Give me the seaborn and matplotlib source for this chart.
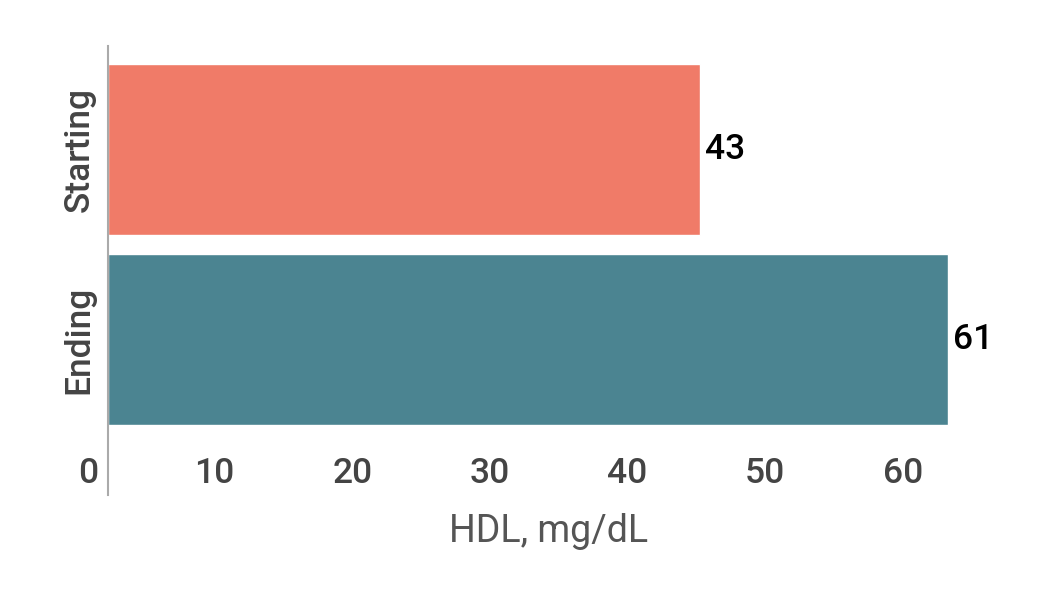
import matplotlib
matplotlib.use("Agg")
import matplotlib.pyplot as plt
import matplotlib.transforms as mtransforms
import seaborn as sns
import pandas as pd

categories = ["Starting", "Ending"]
values = [43, 61]
colors = ["#F07B68", "#4B8491"]
x_ticks = [0, 10, 20, 30, 40, 50, 60]
x_label = "HDL, mg/dL"

sns.set_theme(style="white")
plt.rcParams["font.family"] = ["Roboto", "DejaVu Sans"]

df = pd.DataFrame({"cat": categories, "val": values})

fig = plt.figure(figsize=(10.46, 6.02), dpi=100)
W, H = 1046, 602
ax = fig.add_axes([108 / W, 1 - 495 / H, (989 - 108) / W, (495 - 46) / H])

sns.barplot(data=df, y="cat", x="val", hue="cat", palette=colors,
            width=0.9, saturation=1, legend=False, ax=ax)

ax.set_xlim(0, 64)
ax.set_ylim(1.816, -0.547)

for s in ["top", "right", "bottom"]:
    ax.spines[s].set_visible(False)
ax.spines["left"].set_color("#aaaaaa")
ax.spines["left"].set_linewidth(1.5)

FS = 25.5
ax.set_xticks(x_ticks)
ax.set_xticklabels([str(t) for t in x_ticks])
ax.tick_params(axis="x", length=0, pad=-27.4, labelsize=FS, labelcolor="#444444")
ax.tick_params(axis="y", length=0, pad=9, labelsize=FS, labelcolor="#444444")
for lbl in ax.get_xticklabels():
    lbl.set_fontweight("medium")
    lbl.set_va("top")
for i, lbl in enumerate(ax.get_xticklabels()):
    dx = -20 if i == 0 else -31
    lbl.set_transform(lbl.get_transform() + mtransforms.ScaledTranslation(dx / 100, 0, fig.dpi_scale_trans))
for lbl in ax.get_yticklabels():
    lbl.set_rotation(90)
    lbl.set_va("center")
    lbl.set_ha("right")
    lbl.set_fontweight("medium")

ax.set_ylabel("")
ax.set_xlabel(x_label, fontsize=27, color="#555555")
ax.xaxis.set_label_coords(0.5, -0.04)
ax.xaxis.label.set_va("top")

for i, v in enumerate(values):
    ax.annotate(f"{v}", xy=(v, i), xytext=(3.5, 0), textcoords="offset points",
                va="center", ha="left", fontsize=FS, fontweight="medium",
                color="#000000", annotation_clip=False)

fig.savefig("out.png", dpi=100)
